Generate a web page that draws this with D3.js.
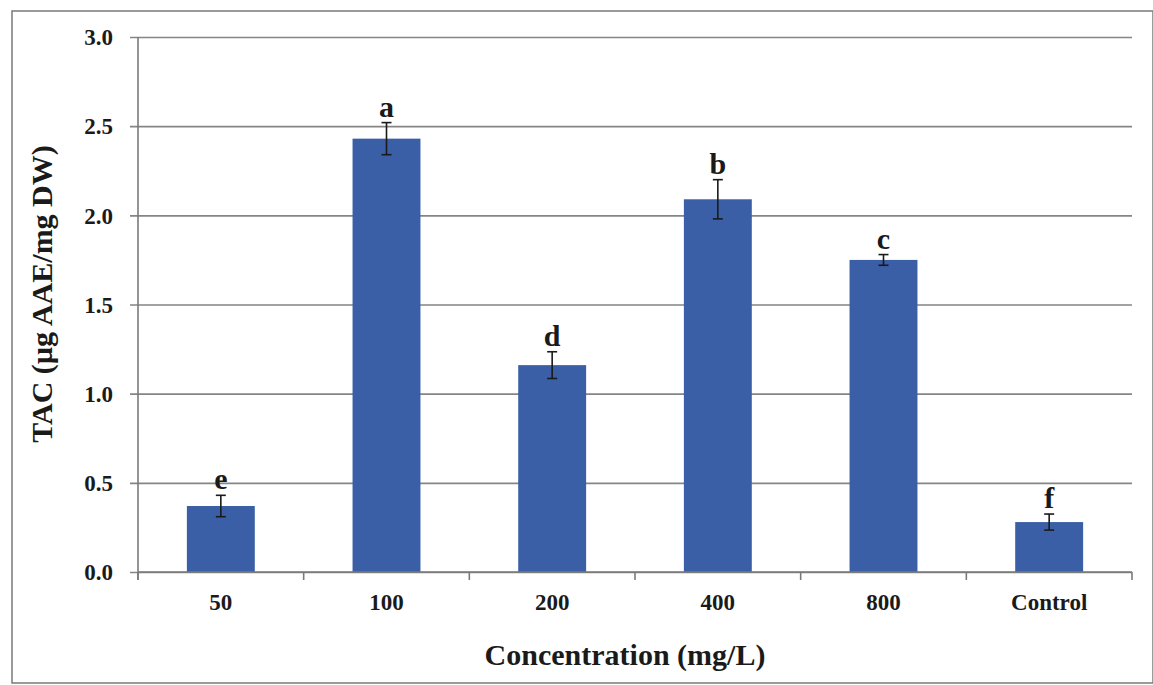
<!DOCTYPE html>
<html>
<head>
<meta charset="utf-8">
<script src="https://cdn.jsdelivr.net/npm/d3@7"></script>
<style>
  html, body { margin: 0; padding: 0; background: #fff; }
  svg { display: block; }
</style>
</head>
<body>
<svg id="chart" width="1153" height="685"></svg>
<script>
// Total antioxidant capacity by treatment concentration
const categories = ["50", "100", "200", "400", "800", "Control"];
const means      = [0.37, 2.43, 1.16, 2.09, 1.75, 0.28];
const errors     = [0.06, 0.09, 0.075, 0.11, 0.03, 0.045];
const groups     = ["e", "a", "d", "b", "c", "f"];
const yTicks     = [0, 0.5, 1.0, 1.5, 2.0, 2.5, 3.0];

const SERIF = "'Liberation Serif', 'Times New Roman', Times, 'DejaVu Serif', serif";
const INK = "#1a1a1a";

const svg = d3.select("#chart");
const W = 1153, H = 685;
const plot = { left: 138, right: 1132, top: 37, bottom: 572 };

function styleText(sel, size) {
  return sel.style("font-family", SERIF)
    .style("font-weight", "bold")
    .style("font-size", size + "px")
    .style("fill", INK);
}

// outer frame
svg.append("rect")
  .attr("x", 12).attr("y", 11)
  .attr("width", W - 12).attr("height", H - 11 - 2)
  .attr("fill", "#fff").attr("stroke", "#7a7a7a").attr("stroke-width", 1.5);

const x = d3.scaleBand()
  .domain(categories)
  .range([plot.left, plot.right])
  .paddingInner(0.59)
  .paddingOuter(0.295);

const y = d3.scaleLinear()
  .domain([0, 3])
  .range([plot.bottom, plot.top]);

// gridlines + y tick marks
const yAxis = d3.axisLeft(y)
  .tickValues(yTicks)
  .tickFormat(d3.format(".1f"))
  .tickSize(-(plot.right - plot.left))
  .tickSizeOuter(0)
  .tickPadding(25);

const gy = svg.append("g")
  .attr("transform", `translate(${plot.left},0)`)
  .call(yAxis)
  .attr("font-family", null)
  .attr("font-size", null);
gy.select(".domain").remove();
gy.selectAll(".tick line")
  .attr("x1", -8)
  .attr("stroke", "#858585").attr("stroke-width", 1.6);
styleText(gy.selectAll(".tick text"), 23)
  .attr("dy", "0.34em");

// bars
svg.append("g").selectAll("rect")
  .data(categories)
  .join("rect")
  .attr("x", d => x(d))
  .attr("y", (d, i) => y(means[i]))
  .attr("width", x.bandwidth())
  .attr("height", (d, i) => y(0) - y(means[i]))
  .attr("fill", "#3b5fa6");

// error bars
const eb = svg.append("g").attr("stroke", INK).attr("stroke-width", 1.6);
categories.forEach((c, i) => {
  const cx = x(c) + x.bandwidth() / 2;
  const hi = y(means[i] + errors[i]);
  const lo = y(means[i] - errors[i]);
  eb.append("line").attr("x1", cx).attr("x2", cx).attr("y1", hi).attr("y2", lo);
  eb.append("line").attr("x1", cx - 5).attr("x2", cx + 5).attr("y1", hi).attr("y2", hi);
  eb.append("line").attr("x1", cx - 5).attr("x2", cx + 5).attr("y1", lo).attr("y2", lo);
});

// significance letters
styleText(svg.append("g").selectAll("text")
  .data(categories)
  .join("text")
  .attr("x", d => x(d) + x.bandwidth() / 2)
  .attr("y", (d, i) => y(means[i] + errors[i]) - 6)
  .attr("text-anchor", "middle")
  .text((d, i) => groups[i]), 30);

// y axis line
svg.append("line")
  .attr("x1", plot.left).attr("x2", plot.left)
  .attr("y1", plot.top).attr("y2", plot.bottom + 8)
  .attr("stroke", "#7a7a7a").attr("stroke-width", 1.6);

// x axis with ticks between categories
const gx = svg.append("g").attr("stroke", "#7a7a7a").attr("stroke-width", 1.6);
gx.append("line")
  .attr("x1", plot.left).attr("x2", plot.right)
  .attr("y1", plot.bottom).attr("y2", plot.bottom);
d3.range(categories.length + 1).forEach(k => {
  const tx = plot.left + k * (plot.right - plot.left) / categories.length;
  gx.append("line").attr("x1", tx).attr("x2", tx)
    .attr("y1", plot.bottom).attr("y2", plot.bottom + 8);
});

styleText(svg.append("g").selectAll("text")
  .data(categories)
  .join("text")
  .attr("x", d => x(d) + x.bandwidth() / 2)
  .attr("y", 610)
  .attr("text-anchor", "middle")
  .text(d => d), 23);

// axis titles
styleText(svg.append("text")
  .attr("x", 625).attr("y", 665)
  .attr("text-anchor", "middle")
  .text("Concentration (mg/L)"), 30);

styleText(svg.append("text")
  .attr("transform", "translate(52,294) rotate(-90)")
  .attr("text-anchor", "middle")
  .text("TAC (µg AAE/mg DW)"), 30);
</script>
</body>
</html>
